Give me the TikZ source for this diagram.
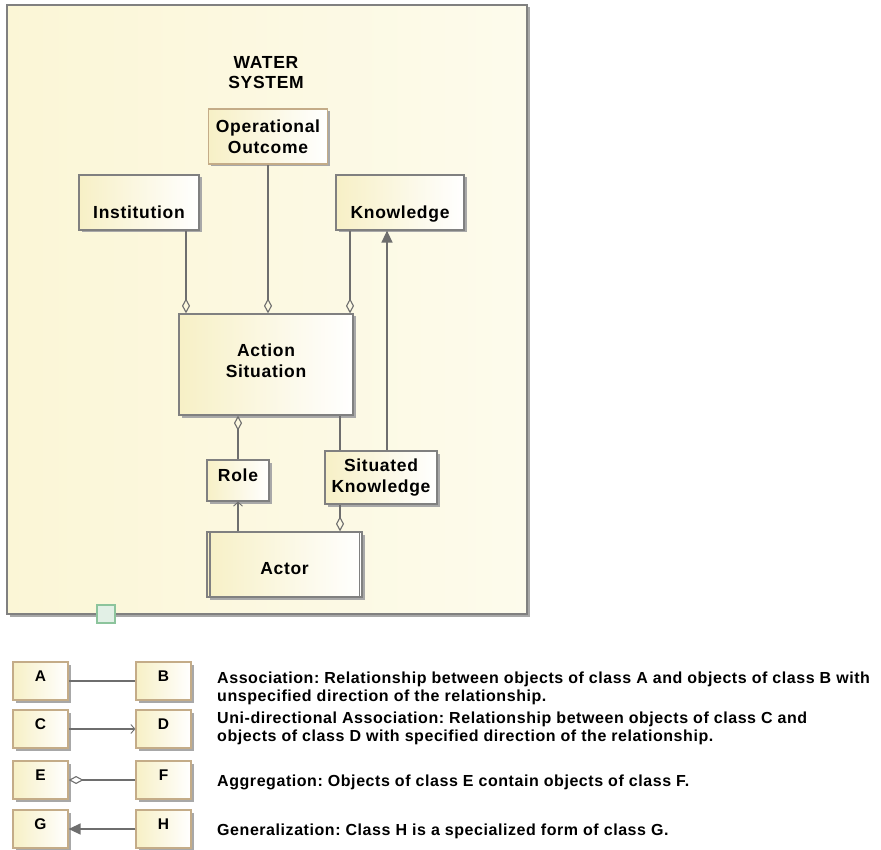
\documentclass[tikz,border=0pt]{standalone}
\usepackage{fontspec}
\setmainfont{Liberation Sans}
\newfontfamily\classfont[LetterSpace=4]{Liberation Sans}
\newfontfamily\notefont[LetterSpace=3.5]{Liberation Sans}
\usetikzlibrary{arrows.meta,shadows}
\definecolor{boxyellow}{HTML}{F7F0C6}
\definecolor{framefill}{HTML}{FBF6D6}
\definecolor{framelight}{HTML}{FDFBEC}
\definecolor{edgegray}{HTML}{808080}
\definecolor{edgebrown}{HTML}{C4AC88}
\definecolor{linegray}{HTML}{6E6E6E}
\definecolor{shadowgray}{HTML}{A8A8A8}
\definecolor{pingreen}{HTML}{8CC49C}
% shift a label up or down inside its box without changing the box size
\newcommand{\shiftlabel}[2]{\raisebox{#1}[\height][\depth]{\begin{tabular}{@{}c@{}}#2\end{tabular}}}
\begin{document}
\begin{tikzpicture}[x=1pt,y=-1pt,
  classbox/.style={draw=edgegray, line width=1.2pt, left color=boxyellow, right color=white,
    inner sep=0pt, align=center, font=\classfont\fontsize{17.5}{21}\selectfont\bfseries,
    drop shadow={shadow xshift=2.5pt, shadow yshift=-2.5pt, fill=shadowgray, opacity=1}},
  keybox/.style={classbox, draw=edgebrown, minimum width=55pt, minimum height=38pt,
    font=\classfont\fontsize{15.5}{17}\selectfont\bfseries},
  link/.style={draw=linegray, line width=1.3pt},
  agg/.style={link, {Diamond[open, length=15pt, width=8pt, line width=1.1pt]}-},
  gen/.style={link, -{Triangle[length=12pt, width=11pt]}, fill=linegray!80!black},
  nav/.style={link, -{Straight Barb[length=4pt, width=9pt, line width=0.9pt]}},
  desc/.style={anchor=west, align=left, inner sep=0pt,
    font=\notefont\fontsize{16}{18}\selectfont\bfseries\frenchspacing}
]
\useasboundingbox (0,0) rectangle (881,850);

% system frame
\node[draw=edgegray, line width=1.4pt, left color=framefill, right color=framelight,
  minimum width=520pt, minimum height=609pt, inner sep=0pt,
  drop shadow={shadow xshift=2.5pt, shadow yshift=-2.5pt, fill=shadowgray, opacity=1}]
  (frame) at (267,309.5) {};
\node[font=\classfont\fontsize{17.5}{20}\selectfont\bfseries, align=center] (title) at (266,73) {WATER\\SYSTEM};

% classes
\node[classbox, draw=edgebrown, minimum width=119pt, minimum height=55pt] (outcome) at (268,136.5) {Operational\\Outcome};
\node[classbox, minimum width=120pt, minimum height=55pt] (inst) at (139,202.5) {\shiftlabel{-12pt}{Institution}};
\node[classbox, minimum width=128pt, minimum height=55pt] (know) at (400,202.5) {\shiftlabel{-12pt}{Knowledge}};
\node[classbox, minimum width=174pt, minimum height=101pt] (as) at (266,364.5) {\shiftlabel{1.5pt}{Action\\Situation}};
\node[classbox, minimum width=62pt, minimum height=41pt] (role) at (238,480.5) {\shiftlabel{3pt}{Role}};
\node[classbox, minimum width=112pt, minimum height=53pt] (sk) at (381,477.5) {Situated\\Knowledge};
\node[classbox, minimum width=155pt, minimum height=65pt] (actor) at (284.5,564.5) {\shiftlabel{-6pt}{Actor}};
\draw[edgegray, line width=1.2pt] ([xshift=3.5pt]actor.north west) -- ([xshift=3.5pt]actor.south west)
  ([xshift=-3.5pt]actor.north east) -- ([xshift=-3.5pt]actor.south east);

% package pin on the frame edge
\node[draw=pingreen, line width=1.1pt, fill=pingreen!25!white, minimum size=18pt, inner sep=0pt]
  (pin) at (106,614) {};

% relationships
\draw[agg] ([xshift=47pt]inst.south |- as.north) -- ([xshift=47pt]inst.south);
\draw[agg] (outcome.south |- as.north) -- (outcome.south);
\draw[agg] ([xshift=-50pt]know.south |- as.north) -- ([xshift=-50pt]know.south);
\draw[gen] ([xshift=6pt]sk.north) -- ([xshift=6pt]sk.north |- know.south);
\draw[agg] ([xshift=-28pt]as.south) -- ([xshift=-28pt]as.south |- role.north);
\draw[link] ([xshift=74pt]as.south) -- ([xshift=74pt]as.south |- sk.north);
\draw[nav] (role.south |- actor.north) -- (role.south);
\draw[agg] ([xshift=55.5pt]actor.north) -- ([xshift=55.5pt]actor.north |- sk.south);

% notation key
\node[keybox] (ka) at (40.5,681) {\shiftlabel{3pt}{A}};
\node[keybox] (kb) at (163.5,681) {\shiftlabel{3pt}{B}};
\node[keybox] (kc) at (40.5,729) {\shiftlabel{3pt}{C}};
\node[keybox] (kd) at (163.5,729) {\shiftlabel{3pt}{D}};
\node[keybox] (ke) at (40.5,780) {\shiftlabel{3pt}{E}};
\node[keybox] (kf) at (163.5,780) {\shiftlabel{3pt}{F}};
\node[keybox] (kg) at (40.5,829) {\shiftlabel{3pt}{G}};
\node[keybox] (kh) at (163.5,829) {\shiftlabel{3pt}{H}};
\draw[link] (ka) -- (kb);
\draw[nav] (kc) -- (kd);
\draw[agg] (ke) -- (kf);
\draw[gen] (kh) -- (kg);

\node[desc] (da) at (217,688) {Association: Relationship between objects of class A and objects of class B with\\unspecified direction of the relationship.};
\node[desc] (dc) at (217,728) {Uni-directional Association: Relationship between objects of class C and\\objects of class D with specified direction of the relationship.};
\node[desc] (de) at (217,782) {Aggregation: Objects of class E contain objects of class F.};
\node[desc] (dg) at (217,831) {Generalization: Class H is a specialized form of class G.};
\end{tikzpicture}
\end{document}
